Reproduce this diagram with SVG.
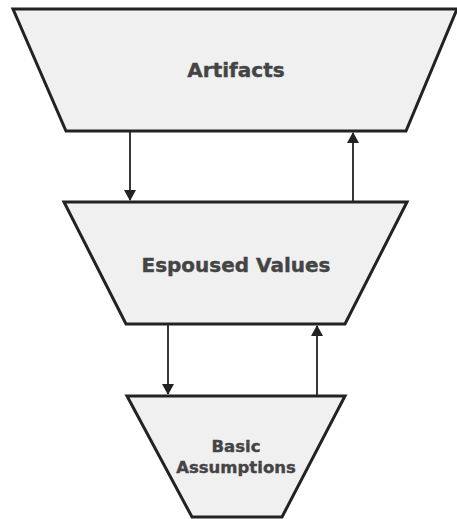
<svg xmlns="http://www.w3.org/2000/svg" width="457" height="519" viewBox="0 0 457 519">
<style>
.tz{fill:#f0f0f0;stroke:#222;stroke-width:3;stroke-linejoin:miter}
.lb{font-family:"DejaVu Sans",sans-serif;font-weight:bold;fill:#444;stroke:#444;stroke-width:0.4;text-anchor:middle}
.cn{stroke:#222;stroke-width:1.8;fill:none}
</style>
<defs>
<marker id="ah" markerWidth="11" markerHeight="12" refX="10" refY="6" orient="auto" markerUnits="userSpaceOnUse">
<path d="M0,0 L11,6 L0,12 Z" fill="#222"/>
</marker>
</defs>
<g id="artifacts">
<polygon class="tz" points="13,9 457,9 406,131 66,131"/>
<text class="lb" x="236" y="77" font-size="20">Artifacts</text>
</g>
<g id="espoused-values">
<polygon class="tz" points="64,202 407,202 345,324 126,324"/>
<text class="lb" x="236" y="272" font-size="20">Espoused Values</text>
</g>
<g id="basic-assumptions">
<polygon class="tz" points="127,396 345,396 282,517 192,517"/>
<text class="lb" x="236" y="452" font-size="16.5">Basic</text>
<text class="lb" x="236" y="473" font-size="16.5">Assumptions</text>
</g>
<g id="connectors">
<line class="cn" x1="130" y1="132" x2="130" y2="200" marker-end="url(#ah)"/>
<line class="cn" x1="353" y1="201" x2="353" y2="133" marker-end="url(#ah)"/>
<line class="cn" x1="168" y1="325" x2="168" y2="394" marker-end="url(#ah)"/>
<line class="cn" x1="317" y1="395" x2="317" y2="326" marker-end="url(#ah)"/>
</g>
</svg>
